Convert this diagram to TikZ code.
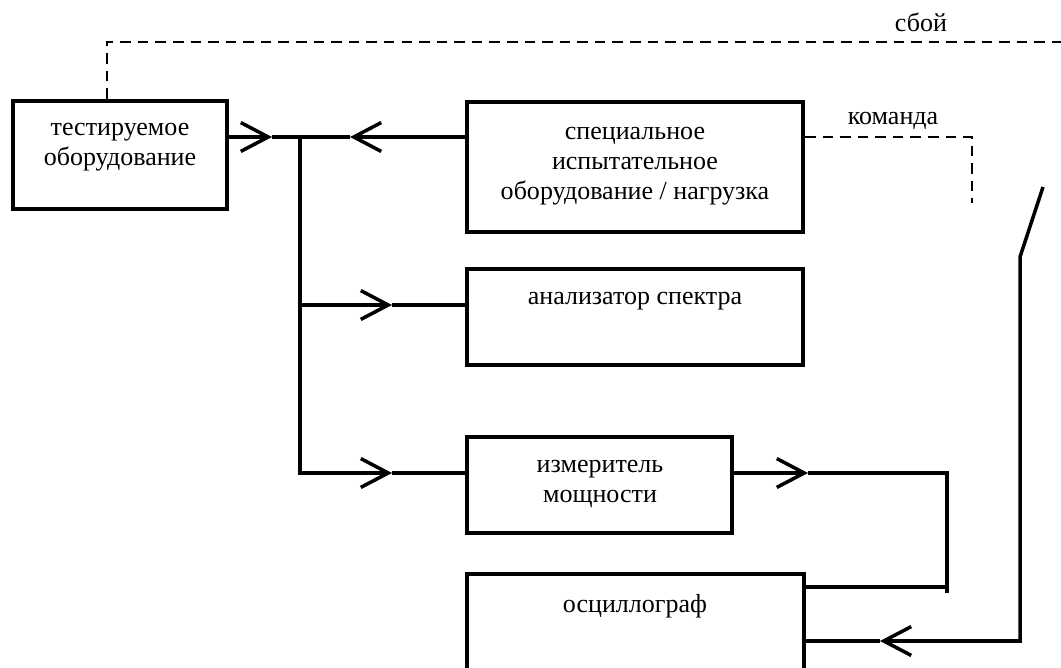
\documentclass[tikz,border=0pt]{standalone}
\usepackage{fontspec}
\setmainfont{Liberation Serif}
\usetikzlibrary{arrows.meta,fit}

\tikzset{
  blk/.style={draw, line width=2.8pt, inner sep=0pt},
  lbl/.style={align=center, inner sep=0pt, font=\fontsize{18.5pt}{21.3pt}\selectfont},
  wire/.style={line width=2.5pt},
  arr/.style={wire, -{Straight Barb[length=19.5pt,width=20.5pt]}},
  sig/.style={line width=1.8pt, dash pattern=on 7.5pt off 5pt},
}

\begin{document}
\begin{tikzpicture}[x=0.025cm, y=-0.025cm]
\clip (0,0) rectangle (1061,668);
\node[blk, fit={(13,101) (227,209)}] (dut) {};
\node[blk, fit={(467,102) (803,232)}] (spec) {};
\node[blk, fit={(467,269) (803,365)}] (anal) {};
\node[blk, fit={(467,437) (732,533)}] (pmeter) {};
\node[blk, fit={(467,574) (804,720)}] (osc) {};
\node[lbl] (dutT) at (120,147) {тестируемое\\оборудование};
\node[lbl] (specT) at (635,166) {специальное\\испытательное\\оборудование / нагрузка};
\node[lbl] (analT) at (635,301) {анализатор спектра};
\node[lbl] (pmT) at (600,484) {измеритель\\мощности};
\node[lbl] (oscT) at (635,606) {осциллограф};
\node[lbl] (failL) at (921,22) {сбой};
\node[lbl] (cmdL) at (893,121) {команда};

\coordinate (busT) at (300,137);
\coordinate (busA) at (300,305);
\coordinate (busP) at (300,473);
\coordinate (tipD) at (272,137);
\coordinate (tipS) at (350,137);
\coordinate (tipA) at (392,305);
\coordinate (tipP) at (392,473);
\coordinate (tipM) at (808,473);
\coordinate (jM) at (947,473);
\coordinate (jMb) at (947,593);
\coordinate (jO) at (947,587);
\coordinate (swA) at (1043,187);
\coordinate (swB) at (1020,257);
\coordinate (tipO) at (880,641);
\coordinate (fail) at (107,42);
\coordinate (failE) at (1065,42);
\coordinate (cmd) at (972,137);
\coordinate (cmdE) at (972,203);

\draw[arr] (dut.east |- busT) -- (tipD);
\draw[wire] (tipD) -- (tipS);
\draw[arr] (spec.west |- busT) -- (tipS);
\draw[arr] (busT) |- (tipP);
\draw[wire] (tipP) -- (busP -| pmeter.west);
\draw[arr] (busA) -- (tipA);
\draw[wire] (tipA) -- (busA -| anal.west);
\draw[arr] (busP -| pmeter.east) -- (tipM);
\draw[wire] (tipM) -- (jM) -- (jMb);
\draw[wire] (jO -| osc.east) -- (jO);
\draw[arr] (swA) -- (swB) |- (tipO);
\draw[wire] (tipO) -- (tipO -| osc.east);

\draw[sig] (dut.north -| fail) -- (fail) -- (failE);
\draw[sig] (spec.east |- busT) -- (cmd) -- (cmdE);
\end{tikzpicture}
\end{document}
